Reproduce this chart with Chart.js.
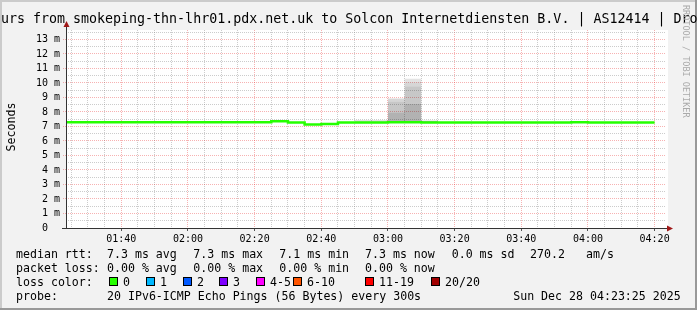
<!DOCTYPE html>
<html><head><meta charset="utf-8">
<script src="https://cdn.jsdelivr.net/npm/chart.js@4.4.1/dist/chart.umd.min.js"></script>
<style>html,body{margin:0;padding:0;background:#f2f2f2;overflow:hidden}canvas{display:block}</style>
</head><body>
<canvas id="c" width="697" height="310" style="width:697px;height:310px"></canvas>
<script>
// ---------- data ----------
const titleText = 'urs from smokeping-thn-lhr01.pdx.net.uk to Solcon Internetdiensten B.V. | AS12414 | Dro';
const yAxisTitle = 'Seconds';
const watermark = 'RRDTOOL / TOBI OETIKER';
const timeStart = '01:23:25';
const timeEnd = '04:23:25';

// 5-minute intervals (start time of each interval; last entry closes the final step)
const intervalTimes = ['01:20','01:25','01:30','01:35','01:40','01:45','01:50','01:55',
  '02:00','02:05','02:10','02:15','02:20','02:25','02:30','02:35','02:40','02:45','02:50','02:55',
  '03:00','03:05','03:10','03:15','03:20','03:25','03:30','03:35','03:40','03:45','03:50','03:55',
  '04:00','04:05','04:10','04:15','04:20'];
const medianRtt = [7.30,7.30,7.30,7.30,7.29,7.29,7.29,7.29,
  7.30,7.29,7.29,7.29,7.29,7.36,7.28,7.13,7.17,7.28,7.28,7.28,
  7.29,7.30,7.28,7.28,7.28,7.28,7.28,7.28,7.28,7.28,7.28,7.29,
  7.28,7.28,7.28,7.28,7.28];

// smoke (spread of the 20 pings) where it shows above the median
const smokeTimes = ['02:50','02:55','03:00','03:05','03:10','03:15'];
const smokeBase  = [7.28, 7.28, 7.29, 7.30, 7.28, 7.28];
const smokeBand1 = [7.28, 7.28, 7.96, 8.56, 7.39, 7.28];
const smokeBand2 = [7.28, 7.28, 8.70, 9.75, 7.39, 7.28];
const smokeBand3 = [7.40, 7.40, 8.93, 10.05, 7.39, 7.28];
const smokeBand4 = [7.45, 7.45, 8.93, 10.30, 7.39, 7.28];

const yTickLabels = ['0  ','1 m','2 m','3 m','4 m','5 m','6 m','7 m','8 m','9 m','10 m','11 m','12 m','13 m'];
const xTickLabels = ['01:40','02:00','02:20','02:40','03:00','03:20','03:40','04:00','04:20'];

const rttLegend  = ['median rtt:','7.3 ms avg','7.3 ms max','7.1 ms min','7.3 ms now','0.0 ms sd','270.2','am/s'];
const lossLegend = ['packet loss:','0.00 % avg','0.00 % max','0.00 % min','0.00 % now'];
const lossColorTitle = 'loss color:';
const lossLabels = ['0','1','2','3','4-5','6-10','11-19','20/20'];
const lossColors = ['#26ff00','#00b8ff','#0059ff','#7e00ff','#ff00ff','#ff5500','#ff0000','#a10000'];
const probeLegend = ['probe:','20 IPv6-ICMP Echo Pings (56 Bytes) every 300s'];
const dateStamp = 'Sun Dec 28 04:23:25 2025';

// ---------- helpers ----------
function toMin(s){ const p = s.split(':').map(Number); return p[0]*60 + p[1] + (p[2]||0)/60; }
function fmt(v){ const h = Math.floor(v/60), m = Math.round(v - h*60); return String(h).padStart(2,'0')+':'+String(m).padStart(2,'0'); }
// each value belongs to the interval that STARTS at its time; add the closing point one step later
const pts = (ts, vs) => ts.map((t,i)=>({x: toMin(t), y: vs[i]}));

const MONO = '"DejaVu Sans Mono", monospace';
const MAJOR = 'rgba(230,0,0,0.30)';
const MINOR = 'rgba(128,128,128,0.40)';

const rrdPlugin = {
  id: 'rrd',
  beforeDraw(chart){
    const {ctx, chartArea:a} = chart;
    ctx.save();
    ctx.fillStyle = '#f2f2f2'; ctx.fillRect(0,0,697,310);
    ctx.fillStyle = '#cbcbcb'; ctx.fillRect(0,0,697,2); ctx.fillRect(0,0,2,310);
    ctx.fillStyle = '#999999'; ctx.fillRect(0,308,697,2); ctx.fillRect(695,0,2,310);
    ctx.fillStyle = '#ffffff'; ctx.fillRect(a.left, a.top, a.right - a.left + 2, a.bottom - a.top);
    ctx.restore();
  },
  afterDraw(chart){
    const {ctx, chartArea:a} = chart;
    ctx.save();
    // axes
    ctx.strokeStyle = '#333'; ctx.lineWidth = 1;
    ctx.beginPath();
    ctx.moveTo(a.left + 0.5, a.bottom + 0.5); ctx.lineTo(a.left + 0.5, a.top - 4);
    ctx.moveTo(a.left - 4, a.bottom + 0.5); ctx.lineTo(a.right + 2, a.bottom + 0.5);
    ctx.stroke();
    ctx.fillStyle = '#a01818';
    ctx.beginPath();
    ctx.moveTo(a.left + 0.5, a.top - 9); ctx.lineTo(a.left + 3.5, a.top - 3); ctx.lineTo(a.left - 2.5, a.top - 3); ctx.closePath(); ctx.fill();
    ctx.beginPath();
    ctx.moveTo(a.right + 7, a.bottom + 0.5); ctx.lineTo(a.right + 1, a.bottom - 2.5); ctx.lineTo(a.right + 1, a.bottom + 3.5); ctx.closePath(); ctx.fill();

    // title
    ctx.fillStyle = '#000';
    ctx.textBaseline = 'alphabetic';
    ctx.textAlign = 'left';
    ctx.font = '13.3px ' + MONO;
    ctx.fillText(titleText, 1, 23);

    // y axis title
    ctx.font = '11.6px ' + MONO;
    ctx.save();
    ctx.translate(14.5, 127);
    ctx.rotate(-Math.PI/2);
    ctx.textAlign = 'center';
    ctx.fillText(yAxisTitle, 0, 0);
    ctx.restore();

    // watermark
    ctx.save();
    ctx.font = '8.5px ' + MONO;
    ctx.fillStyle = '#aaaaaa';
    ctx.translate(683, 5);
    ctx.rotate(Math.PI/2);
    ctx.textAlign = 'left';
    ctx.fillText(watermark, 0, 0);
    ctx.restore();

    // legend
    ctx.font = '11.6px ' + MONO;
    ctx.fillStyle = '#000';
    const colX = [16, 107, 193.3, 279.3, 365, 451.7, 530, 586];
    rttLegend.forEach((s,i)=> ctx.fillText(s, colX[i], 258));
    lossLegend.forEach((s,i)=> ctx.fillText(s, colX[i], 272));
    ctx.fillText(lossColorTitle, 16, 286);
    const boxX = [109, 146, 183, 219, 256, 293, 365, 431];
    lossLabels.forEach((s,i)=>{
      ctx.fillStyle = lossColors[i];
      ctx.fillRect(boxX[i], 277, 9, 9);
      ctx.strokeStyle = '#000'; ctx.lineWidth = 1;
      ctx.strokeRect(boxX[i] + 0.5, 277.5, 8, 8);
      ctx.fillStyle = '#000';
      ctx.fillText(s, boxX[i] + 14, 286);
    });
    ctx.fillText(probeLegend[0], 16, 300);
    ctx.fillText(probeLegend[1], 107, 300);
    ctx.textAlign = 'right';
    ctx.fillText(dateStamp, 680.7, 300);
    ctx.restore();
  }
};

// stepped 'before': a point's value is held from that point until the next one
const smokeDs = (vals, fillTo, color) => ({
  data: pts(smokeTimes, vals), stepped: 'before', borderWidth: 1, borderColor: 'rgba(0,0,0,0)',
  pointRadius: 0, fill: fillTo, backgroundColor: color
});

new Chart(document.getElementById('c'), {
  type: 'line',
  data: {
    datasets: [
      { data: pts(intervalTimes, medianRtt), stepped: 'before', borderColor: '#26ff00', borderWidth: 2.5,
        pointRadius: 0, fill: false, borderCapStyle: 'butt' },
      smokeDs(smokeBase, false, 'rgba(0,0,0,0)'),
      smokeDs(smokeBand1, 1, 'rgba(0,0,0,0.30)'),
      smokeDs(smokeBand2, 2, 'rgba(0,0,0,0.22)'),
      smokeDs(smokeBand3, 3, 'rgba(0,0,0,0.16)'),
      smokeDs(smokeBand4, 4, 'rgba(0,0,0,0.11)')
    ]
  },
  options: {
    responsive: false, animation: false, devicePixelRatio: 1,
    layout: { padding: { left: 0, top: 30, right: 31, bottom: 0 } },
    plugins: { legend: { display: false }, tooltip: { enabled: false }, title: { display: false } },
    scales: {
      x: {
        type: 'linear', min: toMin(timeStart), max: toMin(timeEnd),
        afterBuildTicks: s => { const t = []; for (let v = 85; v <= 260; v += 5) t.push({value: v}); s.ticks = t; },
        afterFit: s => { s.height = 82; },
        ticks: { autoSkip: false, maxRotation: 0, minRotation: 0, padding: 2, color: '#000',
          font: { family: MONO, size: 10 },
          callback: v => { const l = fmt(v); return xTickLabels.includes(l) ? l : ''; } },
        grid: { lineWidth: 1, tickLength: 3, tickBorderDash: [],
          color: c => (Math.round(c.tick.value) % 20 === 0) ? MAJOR : MINOR,
          tickColor: c => (Math.round(c.tick.value) % 20 === 0) ? '#555' : 'rgba(0,0,0,0)' },
        border: { display: false, dash: [1,1] }
      },
      y: {
        type: 'linear', min: 0, max: 13.655,
        afterBuildTicks: s => { const t = []; for (let v = 0; v <= 13.5; v += 0.5) t.push({value: v}); s.ticks = t; },
        afterFit: s => { s.width = 66; },
        ticks: { autoSkip: false, padding: 3, color: '#000', font: { family: MONO, size: 10 },
          callback: v => Number.isInteger(v) ? yTickLabels[v] : '' },
        grid: { lineWidth: 1, tickLength: 3, tickBorderDash: [1,1],
          color: c => Number.isInteger(c.tick.value) ? MAJOR : MINOR,
          tickColor: c => Number.isInteger(c.tick.value) ? MAJOR : 'rgba(0,0,0,0)' },
        border: { display: false, dash: [1,1] }
      }
    }
  },
  plugins: [rrdPlugin]
});
</script>
</body></html>
